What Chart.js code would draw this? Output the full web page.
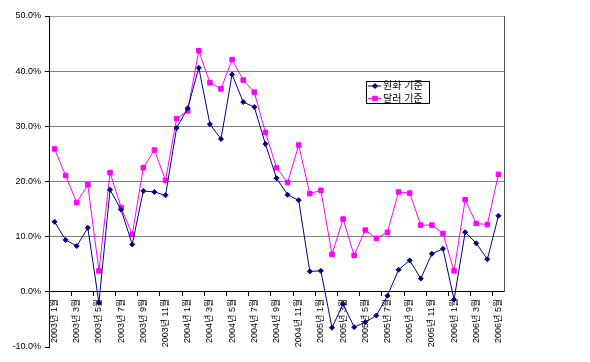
<!DOCTYPE html>
<html>
<head>
<meta charset="utf-8">
<script src="https://cdn.jsdelivr.net/npm/chart.js@4"></script>
<style>
    html, body { margin: 0; padding: 0; background: #fff; }
</style>
</head>
<body>
<canvas id="myChart" width="590" height="362"></canvas>
<script>
const categories = [
    '2003년 1월', '2003년 2월', '2003년 3월', '2003년 4월', '2003년 5월', '2003년 6월',
    '2003년 7월', '2003년 8월', '2003년 9월', '2003년 10월', '2003년 11월', '2003년 12월',
    '2004년 1월', '2004년 2월', '2004년 3월', '2004년 4월', '2004년 5월', '2004년 6월',
    '2004년 7월', '2004년 8월', '2004년 9월', '2004년 10월', '2004년 11월', '2004년 12월',
    '2005년 1월', '2005년 2월', '2005년 3월', '2005년 4월', '2005년 5월', '2005년 6월',
    '2005년 7월', '2005년 8월', '2005년 9월', '2005년 10월', '2005년 11월', '2005년 12월',
    '2006년 1월', '2006년 2월', '2006년 3월', '2006년 4월', '2006년 5월'
];
const wonBased = [
    12.7, 9.4, 8.3, 11.6, -2.0, 18.5, 14.9, 8.6, 18.3, 18.1, 17.5, 29.7,
    33.3, 40.6, 30.4, 27.7, 39.4, 34.4, 33.5, 26.8, 20.6, 17.6, 16.6, 3.7,
    3.8, -6.5, -2.2, -6.4, -5.5, -4.3, -0.7, 4.0, 5.7, 2.4, 6.9, 7.8,
    -1.4, 10.8, 8.8, 5.9, 13.8
];
const dollarBased = [
    25.9, 21.1, 16.2, 19.4, 3.8, 21.6, 15.3, 10.4, 22.5, 25.7, 20.2, 31.4,
    32.8, 43.7, 37.9, 36.8, 42.1, 38.4, 36.2, 28.9, 22.5, 19.8, 26.6, 17.8,
    18.4, 6.8, 13.2, 6.6, 11.2, 9.7, 10.8, 18.1, 17.9, 12.1, 12.1, 10.6,
    3.8, 16.7, 12.4, 12.2, 21.3
];
const seriesNames = ['원화 기준', '달러 기준'];
const yMin = -10, yMax = 50, yStep = 10;

const FONT = "'Liberation Sans', 'Noto Sans CJK KR', sans-serif";

// 오른쪽 테두리: 0% ~ 50% 구간만
const rightFrame = {
    id: 'rightFrame',
    beforeDatasetsDraw(chart) {
        const { ctx, chartArea, scales } = chart;
        const x = Math.round(chartArea.right) + 0.5;
        ctx.save();
        ctx.strokeStyle = '#555';
        ctx.lineWidth = 1;
        ctx.beginPath();
        ctx.moveTo(x, scales.y.getPixelForValue(yMax));
        ctx.lineTo(x, scales.y.getPixelForValue(0));
        ctx.stroke();
        ctx.restore();
    }
};

// 차트 영역 안쪽 테두리 있는 범례
const boxLegend = {
    id: 'boxLegend',
    afterDatasetsDraw(chart) {
        const ctx = chart.ctx;
        const x = 366, y = 81, w = 63, h = 22;
        ctx.save();
        ctx.fillStyle = '#fff';
        ctx.fillRect(x, y, w, h);
        ctx.strokeStyle = '#000';
        ctx.lineWidth = 1;
        ctx.strokeRect(x + 0.5, y + 0.5, w, h);
        chart.data.datasets.forEach((ds, i) => {
            const cy = y + 5 + i * 12.5;
            ctx.strokeStyle = ds.borderColor;
            ctx.beginPath();
            ctx.moveTo(x + 2, cy);
            ctx.lineTo(x + 15, cy);
            ctx.stroke();
            ctx.fillStyle = ds.pointBackgroundColor;
            ctx.strokeStyle = ds.pointBorderColor;
            Chart.helpers.drawPoint(ctx, { pointStyle: ds.pointStyle, radius: ds.pointRadius, borderWidth: 1 }, x + 9, cy);
            ctx.fillStyle = '#000';
            ctx.font = '10px ' + FONT;
            ctx.textBaseline = 'middle';
            ctx.fillText(ds.label, x + 17, cy + 0.5);
        });
        ctx.restore();
    }
};

const ctx = document.getElementById('myChart').getContext('2d');
const myChart = new Chart(ctx, {
    type: 'line',
    data: {
        labels: categories,
        datasets: [{
            label: seriesNames[0],
            data: wonBased,
            borderColor: '#000080',
            borderWidth: 1,
            pointStyle: 'rectRot',
            pointRadius: 2.5,
            pointBackgroundColor: '#000080',
            pointBorderColor: '#000080',
            tension: 0
        }, {
            label: seriesNames[1],
            data: dollarBased,
            borderColor: '#ff00ff',
            borderWidth: 1,
            pointStyle: 'rect',
            pointRadius: 3.2,
            pointBackgroundColor: '#ff00ff',
            pointBorderColor: '#ff00ff',
            tension: 0
        }]
    },
    options: {
        responsive: false,
        animation: false,
        devicePixelRatio: 1,
        layout: { padding: { left: 0, top: 16, right: 86, bottom: 15 } },
        plugins: { legend: { display: false }, tooltip: { enabled: false } },
        scales: {
            x: {
                position: { y: 0 },
                offset: true,
                grid: {
                    offset: true,
                    drawOnChartArea: false,
                    tickLength: 4,
                    color: c => c.index % 2 === 0 ? '#000' : 'rgba(0,0,0,0)'
                },
                border: { color: '#000', width: 1 },
                ticks: {
                    autoSkip: false,
                    minRotation: 90,
                    maxRotation: 90,
                    padding: 3,
                    color: '#000',
                    font: { family: FONT, size: 9 },
                    callback: (v, i) => i % 2 === 0 ? categories[i] : ''
                }
            },
            y: {
                min: yMin,
                max: yMax,
                afterFit: s => { s.width = 49; },
                grid: {
                    color: c => {
                        const v = c.tick ? c.tick.value : null;
                        if (v === 0) return '#000';
                        if (v === yMin) return 'rgba(0,0,0,0)';
                        if (v === yMax) return '#a0a0a0';
                        return '#808080';
                    },
                    tickColor: '#000',
                    tickLength: 4
                },
                border: { color: '#000', width: 1 },
                ticks: {
                    stepSize: yStep,
                    padding: 4,
                    color: '#000',
                    font: { family: FONT, size: 9 },
                    callback: v => v.toFixed(1) + '%'
                }
            }
        }
    },
    plugins: [rightFrame, boxLegend]
});
</script>
</body>
</html>
